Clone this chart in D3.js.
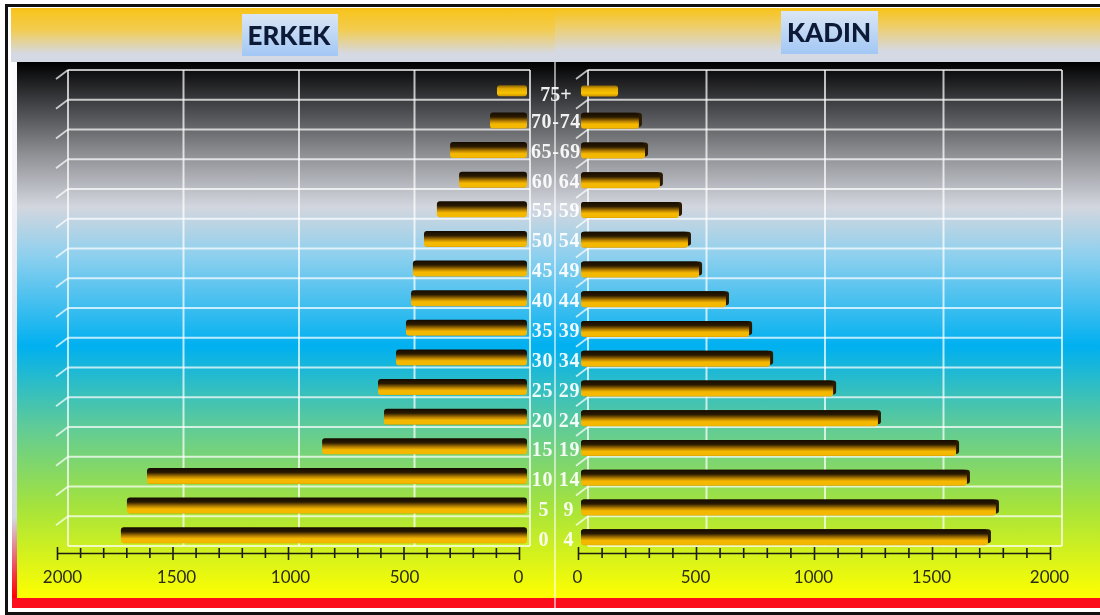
<!DOCTYPE html>
<html>
<head>
<meta charset="utf-8">
<script src="https://cdn.jsdelivr.net/npm/d3@7"></script>
<style>
html, body { margin: 0; padding: 0; background: #fff; }
svg { display: block; filter: blur(0.5px); }
.age { font-family: "Liberation Serif", serif; font-weight: bold; font-size: 20px; fill: #fff; fill-opacity: 0.92; text-anchor: middle; white-space: pre; }
.axis text { font-family: Lato, sans-serif; font-size: 17px; fill: #2c2c18; }
.axis path, .axis line { stroke: #1c1c10; stroke-width: 1.6; }
.title { font-family: Lato, sans-serif; font-weight: 900; font-size: 26px; fill: #0c1a38; text-anchor: middle; }
</style>
</head>
<body>
<svg width="1100" height="615"></svg>
<script>
// top row first, same order as the picture
var ages = ["75+", "70-74", "65-69", "60 64", "55 59", "50 54", "45 49", "40 44",
            "35 39", "30 34", "25 29", "20 24", "15 19", "10 14", "5   9", "0   4"];
var erkek = [130, 160, 333, 294, 390, 446, 494, 502, 524, 567, 645, 619, 887, 1645, 1732, 1758];
var kadin = [157, 258, 284, 347, 428, 466, 513, 627, 725, 814, 1081, 1271, 1602, 1648, 1771, 1737];
var gridValues = [0, 500, 1000, 1500, 2000];

var svg = d3.select("svg");
var defs = svg.append("defs");

function gradient(id, stops) {
    var g = defs.append("linearGradient").attr("id", id)
        .attr("x1", 0).attr("y1", 0).attr("x2", 0).attr("y2", 1);
    stops.forEach(function (s) {
        g.append("stop").attr("offset", s[0]).attr("stop-color", s[1]);
    });
}

gradient("plotBg", [[0, "#000"], [0.07, "#3a3b3e"], [0.17, "#8c8e92"], [0.27, "#d3d6de"],
    [0.36, "#8fd0ee"], [0.53, "#00b0f0"], [0.68, "#5fcb98"], [0.83, "#a5e33c"], [1, "#ffff00"]]);
gradient("headLeft", [[0, "#f8c318"], [0.4, "#f3cc50"], [0.85, "#d5d9e4"], [1, "#d5d9e4"]]);
gradient("headRight", [[0, "#f8c318"], [0.3, "#f0cd60"], [0.8, "#d5d9e4"], [1, "#d5d9e4"]]);
gradient("strip", [[0, "#fdfdff"], [0.85, "#d5d9e4"], [0.95, "#f04050"], [1, "#ff0000"]]);
gradient("titleBox", [[0, "#dbe6f4"], [1, "#a2c7f5"]]);
gradient("bar", [[0, "#140b00"], [0.28, "#2a1a00"], [0.55, "#b98200"], [0.72, "#f5b800"], [0.95, "#f5b800"], [1, "#d69c00"]]);
gradient("barTop", [[0, "#8a6200"], [0.3, "#e0a800"], [0.7, "#f9c400"], [1, "#cf9500"]]);

// frame and backgrounds
svg.append("rect").attr("x", 5).attr("y", 4).attr("width", 1095).attr("height", 3).attr("fill", "#111");
svg.append("rect").attr("x", 5).attr("y", 4).attr("width", 3).attr("height", 611).attr("fill", "#111");
svg.append("rect").attr("x", 5).attr("y", 612).attr("width", 1095).attr("height", 3).attr("fill", "#111");
svg.append("rect").attr("x", 11).attr("y", 8).attr("width", 544).attr("height", 54).attr("fill", "url(#headLeft)");
svg.append("rect").attr("x", 555).attr("y", 8).attr("width", 545).attr("height", 54).attr("fill", "url(#headRight)");
svg.append("rect").attr("x", 12).attr("y", 62).attr("width", 5).attr("height", 536).attr("fill", "url(#strip)");
svg.append("rect").attr("x", 17).attr("y", 62).attr("width", 1083).attr("height", 536).attr("fill", "url(#plotBg)");
svg.append("rect").attr("x", 12).attr("y", 598).attr("width", 1088).attr("height", 10).attr("fill", "#fb0d1b");

// scales
var yGrid = d3.scaleBand().domain(ages).range([70, 546]);
var yLeft = d3.scaleBand().domain(ages).range([76, 550]);
var yRight = d3.scaleBand().domain(ages).range([76, 552]);
var yText = d3.scalePoint().domain(ages).range([92, 540]);

var gridLeft = d3.scaleLinear().domain([0, 2000]).range([530, 68]);
var gridRight = d3.scaleLinear().domain([0, 2000]).range([588, 1062]);
var barLeft = d3.scaleLinear().domain([0, 2000]).range([527, 65]);
var barRight = d3.scaleLinear().domain([0, 2000]).range([581, 1053]);
var axisLeft = d3.scaleLinear().domain([0, 2000]).range([519, 57]);
var axisRight = d3.scaleLinear().domain([0, 2000]).range([578, 1050]);
var labelLeft = d3.scaleLinear().domain([0, 2000]).range([518, 62]);
var labelRight = d3.scaleLinear().domain([0, 2000]).range([577, 1049]);

// 3d looking grid
function drawGrid(x, depthX) {
    var g = svg.append("g").attr("stroke", "#fff").attr("stroke-opacity", 0.72).attr("fill", "none");
    var rows = ages.map(function (d) { return yGrid(d); });
    rows.push(yGrid.range()[1]);

    g.selectAll(".h").data(rows).join("line").attr("class", "h")
        .attr("x1", x(0)).attr("x2", x(2000))
        .attr("y1", function (d) { return d; }).attr("y2", function (d) { return d; })
        .attr("stroke-width", 2);

    g.selectAll(".v").data(gridValues).join("line").attr("class", "v")
        .attr("x1", function (d) { return x(d); }).attr("x2", function (d) { return x(d); })
        .attr("y1", yGrid.range()[0]).attr("y2", yGrid.range()[1])
        .attr("stroke-width", 2);

    g.selectAll(".d").data(rows.slice(0, -1)).join("line").attr("class", "d")
        .attr("x1", depthX).attr("x2", depthX - 12)
        .attr("y1", function (d) { return d; }).attr("y2", function (d) { return d + 9; })
        .attr("stroke-width", 1.8);
}
drawGrid(gridLeft, 68);
drawGrid(gridRight, 588);

// centre line
svg.append("line").attr("x1", 555).attr("x2", 555).attr("y1", 62).attr("y2", 608)
    .attr("stroke", "#fff").attr("stroke-opacity", 0.8).attr("stroke-width", 1.4);

// bars
function barHeight(d) { return d === ages[0] ? 11 : 16; }

svg.append("g").selectAll("rect").data(ages).join("rect")
    .attr("x", function (d, i) { return barLeft(erkek[i]); })
    .attr("y", function (d) { return yLeft(d) + yLeft.bandwidth() / 2 - barHeight(d) / 2; })
    .attr("width", function (d, i) { return barLeft(0) - barLeft(erkek[i]); })
    .attr("height", barHeight)
    .attr("rx", 3)
    .attr("fill", function (d) { return d === ages[0] ? "url(#barTop)" : "url(#bar)"; });

// right bars have a dark end sticking out a little past the gold
svg.append("g").selectAll("rect").data(ages).join("rect")
    .attr("x", barRight(0))
    .attr("y", function (d) { return yRight(d) + yRight.bandwidth() / 2 - barHeight(d) / 2; })
    .attr("width", function (d, i) { return barRight(kadin[i]) - barRight(0); })
    .attr("height", function (d) { return barHeight(d) - 2; })
    .attr("rx", 3)
    .attr("fill", "#2a1a00")
    .attr("fill-opacity", function (d) { return d === ages[0] ? 0 : 1; });

svg.append("g").selectAll("rect").data(ages).join("rect")
    .attr("x", barRight(0))
    .attr("y", function (d) { return yRight(d) + yRight.bandwidth() / 2 - barHeight(d) / 2; })
    .attr("width", function (d, i) { return barRight(kadin[i]) - barRight(0) - (d === ages[0] ? 0 : 3); })
    .attr("height", barHeight)
    .attr("rx", 3)
    .attr("fill", function (d) { return d === ages[0] ? "url(#barTop)" : "url(#bar)"; });

// age labels
svg.append("g").selectAll("text").data(ages).join("text")
    .attr("class", "age")
    .attr("x", 556)
    .attr("y", function (d) { return yText(d) + (d === ages[0] ? 9 : 6); })
    .attr("letter-spacing", function (d) { return d.length === 5 && d[1] !== " " ? 0.7 : 0; })
    .text(function (d) { return d; });

// bottom axes
function drawAxis(x, labelX) {
    var axis = d3.axisBottom(x)
        .tickValues(d3.range(0, 2001, 100))
        .tickFormat(function (d) { return d % 500 === 0 ? d : ""; })
        .tickSizeOuter(0);
    var g = svg.append("g").attr("class", "axis").attr("transform", "translate(0,553)").call(axis);
    g.selectAll(".tick line")
        .attr("y1", function (d) { return d % 500 === 0 ? -6 : -5; })
        .attr("y2", function (d) { return d % 500 === 0 ? 7 : 5; });
    g.selectAll(".tick text")
        .attr("y", 30)
        .attr("dy", 0)
        .attr("dx", function (d) { return labelX(d) - x(d); });
}
drawAxis(axisLeft, labelLeft);
drawAxis(axisRight, labelRight);

// titles
svg.append("rect").attr("x", 242).attr("y", 14).attr("width", 96).attr("height", 42).attr("fill", "url(#titleBox)");
svg.append("text").attr("class", "title").attr("x", 289).attr("y", 45).text("ERKEK");
svg.append("rect").attr("x", 781).attr("y", 11).attr("width", 97).attr("height", 43).attr("fill", "url(#titleBox)");
svg.append("text").attr("class", "title").attr("x", 829).attr("y", 42).text("KADIN");
</script>
</body>
</html>
